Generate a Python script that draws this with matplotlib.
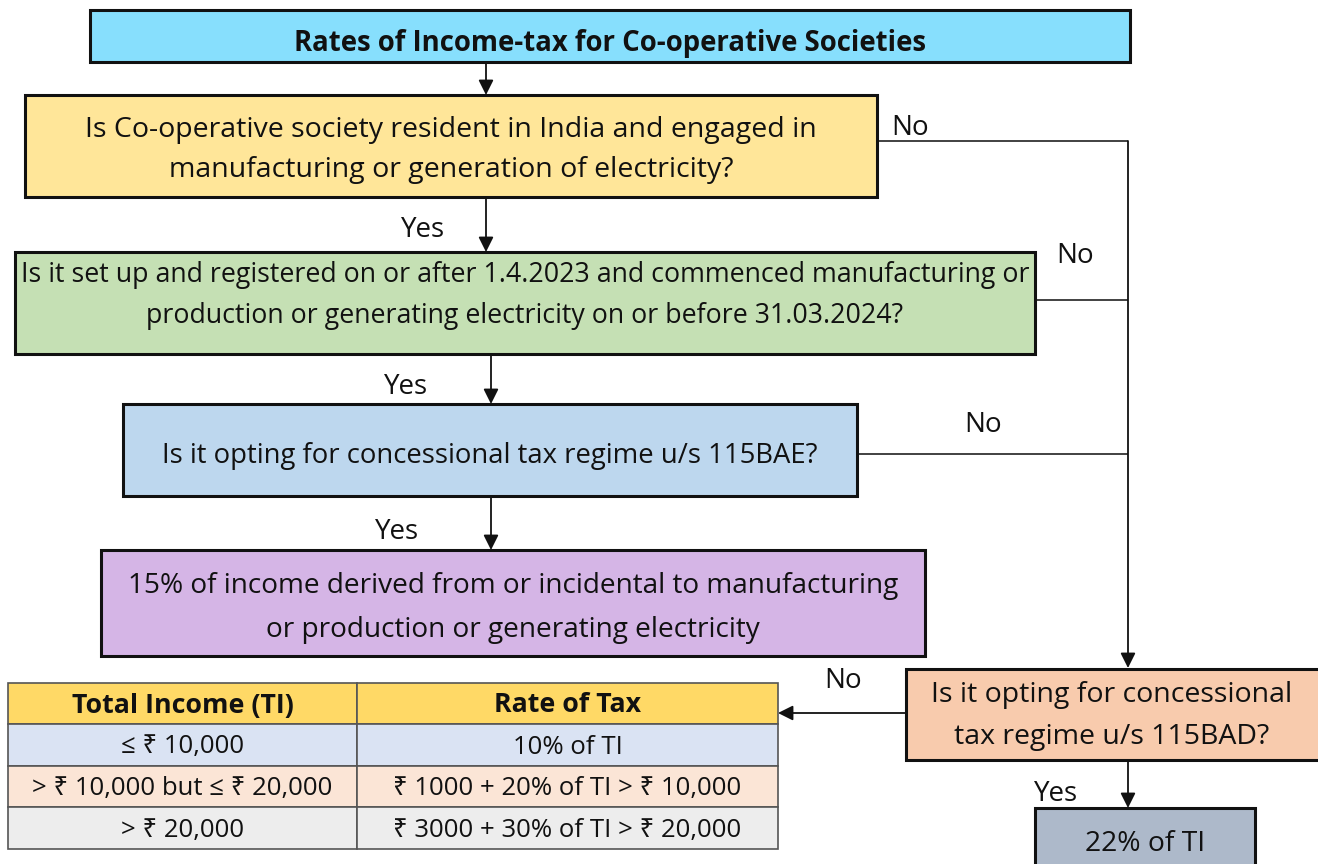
import matplotlib
matplotlib.use("Agg")
import matplotlib.pyplot as plt
from matplotlib.patches import Rectangle

plt.rcParams['font.family'] = ['Open Sans', 'Noto Sans', 'DejaVu Sans']

# ---- content ----
title = "Rates of Income-tax for Co-operative Societies"
q1 = ["Is Co-operative society resident in India and engaged in",
      "manufacturing or generation of electricity?"]
q2 = ["Is it set up and registered on or after 1.4.2023 and commenced manufacturing or",
      "production or generating electricity on or before 31.03.2024?"]
q3 = ["Is it opting for concessional tax regime u/s 115BAE?"]
r15 = ["15% of income derived from or incidental to manufacturing",
       "or production or generating electricity"]
q4 = ["Is it opting for concessional", "tax regime u/s 115BAD?"]
r22 = ["22% of TI"]
table_header = ["Total Income (TI)", "Rate of Tax"]
income_slabs = ["≤ ₹ 10,000", "> ₹ 10,000 but ≤ ₹ 20,000", "> ₹ 20,000"]
tax_rates = ["10% of TI", "₹ 1000 + 20% of TI > ₹ 10,000", "₹ 3000 + 30% of TI > ₹ 20,000"]

W, H = 1318, 864
fig = plt.figure(figsize=(W / 100, H / 100), dpi=100)
ax = fig.add_axes([0, 0, 1, 1])
ax.set_xlim(0, W)
ax.set_ylim(H, 0)
ax.axis('off')

LINE = '#333333'
FS = 20.3


def box(x0, y0, x1, y1, fc, lines, ys, fs=FS, weight='normal', lw=2.2, cx=None, clip=None):
    ax.add_patch(Rectangle((x0, y0), x1 - x0, y1 - y0, fc=fc, ec='#111111', lw=lw, zorder=2))
    if cx is None:
        cx = (x0 + x1) / 2
    for t, y in zip(lines, ys):
        tx = ax.text(cx, y + 2, t, ha='center', va='center', fontsize=fs, weight=weight,
                     color='#111111', zorder=3)
        if clip is not None:
            cp = Rectangle((x0, y0), x1 - x0, clip - y0, transform=ax.transData)
            tx.set_clip_path(cp)


def arrow(x0, y0, x1, y1):
    ax.annotate('', xy=(x1, y1), xytext=(x0, y0),
                arrowprops=dict(arrowstyle='-|>,head_length=0.9,head_width=0.45',
                                color='#111111', lw=1.3, shrinkA=0, shrinkB=0),
                zorder=4)


def line(xs, ys):
    ax.plot(xs, ys, color=LINE, lw=1.3, zorder=1, solid_capstyle='butt')


def label(x, y, t):
    ax.text(x, y + 1, t, ha='center', va='center', fontsize=20, color='#111111', zorder=3)


# title
box(90, 10, 1130, 62, '#87DFFD', [title], [42], fs=19.8, weight='bold', clip=54)
arrow(486, 62, 486, 95)

# Q1
box(25, 95, 877, 197, '#FFE699', q1, [128, 168], fs=20.5)
label(910, 127, 'No')
line([877, 1128], [141, 141])
arrow(1128, 141, 1128, 668)
arrow(486, 197, 486, 252)
label(423, 229, 'Yes')

# Q2
box(15, 252, 1035, 354, '#C5E0B4', q2, [273, 314], fs=19.3)
label(1075, 255, 'No')
line([1035, 1128], [300, 300])
arrow(491, 354, 491, 404)
label(406, 386, 'Yes')

# Q3
box(123, 404, 857, 496, '#BDD7EE', q3, [454], fs=19.8)
label(983, 424, 'No')
line([857, 1128], [454, 454])
arrow(491, 496, 491, 550)
label(397, 531, 'Yes')

# result 15%
box(101, 550, 925, 656, '#D5B5E6', r15, [584, 628], fs=20.2)

# Q4
box(906, 669, 1330, 760, '#F8CBAD', q4, [693, 735], cx=1112, fs=20.5)
label(843, 680, 'No')
arrow(906, 713, 778, 713)
arrow(1128, 760, 1128, 808)
label(1056, 793, 'Yes')

# result 22%
box(1035, 808, 1255, 880, '#ADB9CA', r22, [842], fs=20.3)

# table
col_x = [8, 357, 778]
row_y = [683, 724, 766, 807, 849]
row_fc = ['#FFD966', '#DAE3F3', '#FBE5D6', '#EDEDED']
rows = [table_header] + [[a, b] for a, b in zip(income_slabs, tax_rates)]
for r, cells in enumerate(rows):
    for c, txt in enumerate(cells):
        x0, x1 = col_x[c], col_x[c + 1]
        y0, y1 = row_y[r], row_y[r + 1]
        ax.add_patch(Rectangle((x0, y0), x1 - x0, y1 - y0, fc=row_fc[r],
                               ec='#555555', lw=1.2, zorder=2))
        ax.text((x0 + x1) / 2, (y0 + y1) / 2 + 2, txt, ha='center', va='center',
                fontsize=19.3 if r == 0 else 18.5, weight='bold' if r == 0 else 'normal',
                color='#111111', zorder=3)

fig.savefig('out.png', dpi=100)
